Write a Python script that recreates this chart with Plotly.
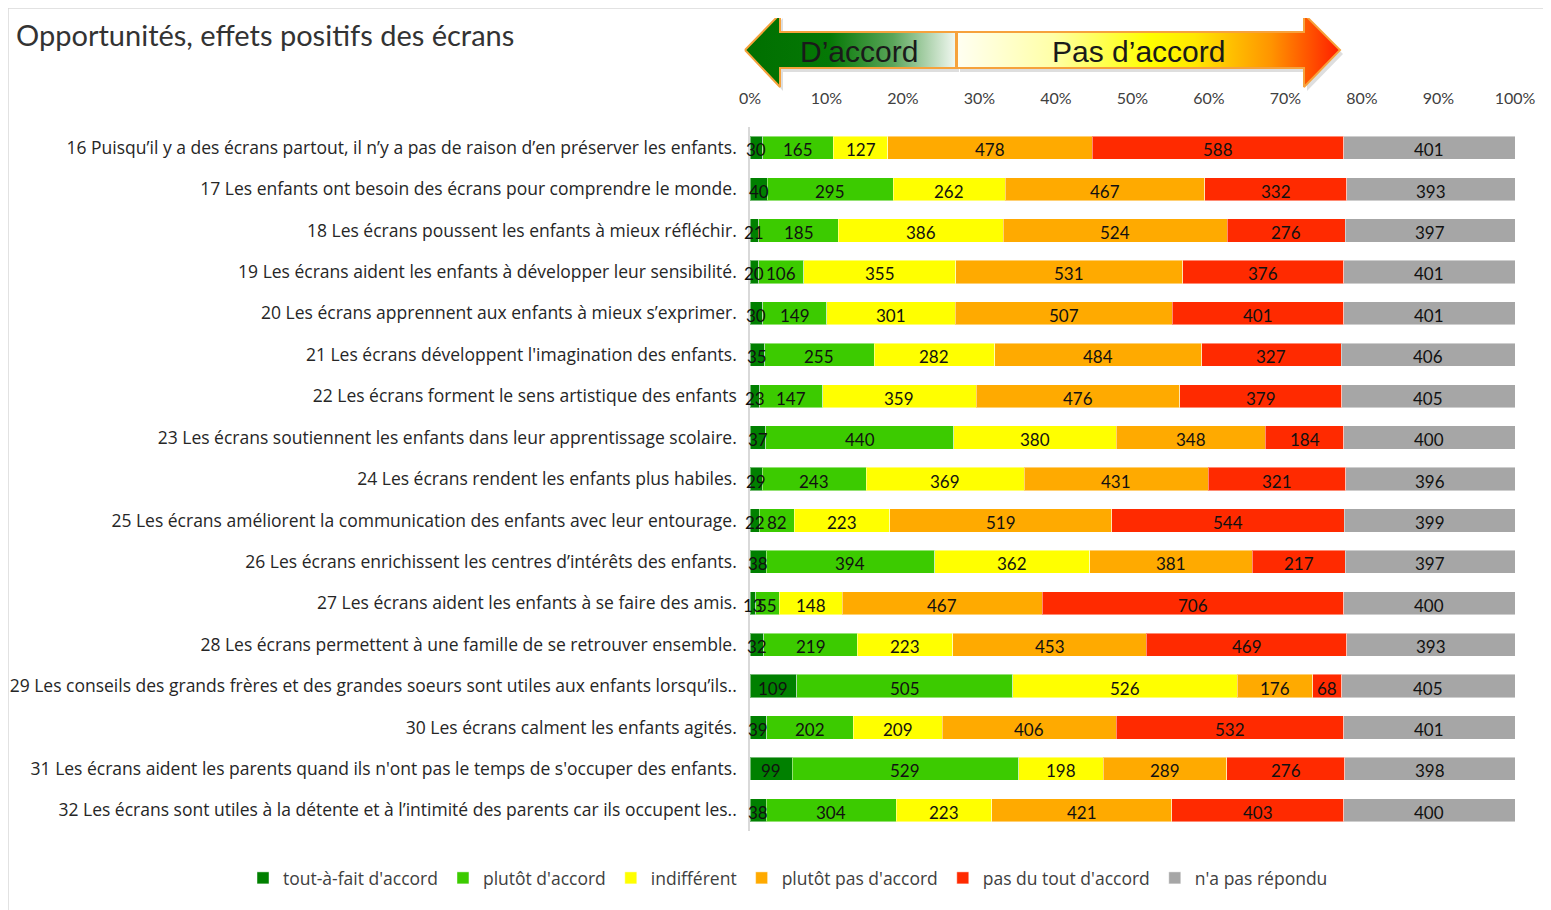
import plotly.graph_objects as go

# ---------------- data ----------------
questions = [
    "16 Puisqu’il y a des écrans partout, il n’y a pas de raison d’en préserver les enfants.",
    "17 Les enfants ont besoin des écrans pour comprendre le monde.",
    "18 Les écrans poussent les enfants à mieux réfléchir.",
    "19 Les écrans aident les enfants à développer leur sensibilité.",
    "20 Les écrans apprennent aux enfants à mieux s’exprimer.",
    "21 Les écrans développent l'imagination des enfants.",
    "22 Les écrans forment le sens artistique des enfants",
    "23 Les écrans soutiennent les enfants dans leur apprentissage scolaire.",
    "24 Les écrans rendent les enfants plus habiles.",
    "25 Les écrans améliorent la communication des enfants avec leur entourage.",
    "26 Les écrans enrichissent les centres d’intérêts des enfants.",
    "27 Les écrans aident les enfants à se faire des amis.",
    "28 Les écrans permettent à une famille de se retrouver ensemble.",
    "29 Les conseils des grands frères et des grandes soeurs sont utiles aux enfants lorsqu’ils..",
    "30 Les écrans calment les enfants agités.",
    "31 Les écrans aident les parents quand ils n'ont pas le temps de s'occuper des enfants.",
    "32 Les écrans sont utiles à la détente et à l’intimité des parents car ils occupent les..",
]

series_names = ["tout-à-fait d'accord", "plutôt d'accord", "indifférent",
                "plutôt pas d'accord", "pas du tout d'accord", "n'a pas répondu"]

tout_a_fait = [30, 40, 21, 20, 30, 35, 23, 37, 29, 22, 38, 13, 32, 109, 39, 99, 38]
plutot = [165, 295, 185, 106, 149, 255, 147, 440, 243, 82, 394, 55, 219, 505, 202, 529, 304]
indifferent = [127, 262, 386, 355, 301, 282, 359, 380, 369, 223, 362, 148, 223, 526, 209, 198, 223]
plutot_pas = [478, 467, 524, 531, 507, 484, 476, 348, 431, 519, 381, 467, 453, 176, 406, 289, 421]
pas_du_tout = [588, 332, 276, 376, 401, 327, 379, 184, 321, 544, 217, 706, 469, 68, 532, 276, 403]
sans_reponse = [401, 393, 397, 401, 401, 406, 405, 400, 396, 399, 397, 400, 393, 405, 401, 398, 400]

tick_values = [0, 0.1, 0.2, 0.3, 0.4, 0.5, 0.6, 0.7, 0.8, 0.9, 1.0]
tick_labels = ["0%", "10%", "20%", "30%", "40%", "50%", "60%", "70%", "80%", "90%", "100%"]

title_text = "Opportunités, effets positifs des écrans"
header_left = "D’accord"
header_right = "Pas d’accord"

# ---------------- styles / geometry helpers ----------------
colors = ["#008000", "#3CCB00", "#FFFF00", "#FFAA00", "#FF2A00", "#A6A6A6"]
W, H = 1551, 910
OFF = 8  # page body offset
ML, MR, MT, MB = 10, 10, 10, 80
PW, PH = W - ML - MR, H - MT - MB
LABEL_FONT = "Open Sans, Noto Sans, sans-serif"
NUM_FONT = "Lato, Noto Sans, sans-serif"


def px_x(s):
    return (s - OFF - ML) / PW


def px_y(s):
    return (H - MB - (s - OFF)) / PH


all_series = [tout_a_fait, plutot, indifferent, plutot_pas, pas_du_tout, sans_reponse]
totals = [sum(v) for v in zip(*all_series)]

fig = go.Figure()
for name, vals, col in zip(series_names, all_series, colors):
    fig.add_trace(go.Bar(
        y=questions,
        x=[v / t for v, t in zip(vals, totals)],
        orientation="h",
        name=name,
        marker=dict(color=col, line=dict(color="rgba(255,255,255,0.45)", width=1)),
        hovertemplate="%{y}<br>" + name + ": %{x:.1%}<extra></extra>",
    ))

# value labels drawn on top of all segments (centre of each stacked segment)
value_annotations = []
for i, q in enumerate(questions):
    cum = 0.0
    for vals in all_series:
        share = vals[i] / totals[i]
        value_annotations.append(dict(
            x=cum + share / 2, y=q, xref="x", yref="y", text=str(vals[i]),
            showarrow=False, xanchor="center", yanchor="middle", yshift=-2,
            font=dict(family=NUM_FONT, size=17, color="#111111"),
        ))
        cum += share

# header arrows (decoration) on an auxiliary axis in screen-pixel units
left_x = [745, 780, 780, 956, 956, 780, 780, 745]
left_y = [50, 14, 32, 32, 68, 68, 87, 50]
right_x = [957, 1304, 1304, 1340, 1304, 1304, 957, 957]
right_y = [32, 32, 14, 50, 87, 68, 68, 32]

# soft shadow
for xs, ys in ((left_x, left_y), (right_x, right_y)):
    fig.add_trace(go.Scatter(
        x=[v + 3 for v in xs], y=[v + 4 for v in ys], xaxis="x2", yaxis="y2", mode="lines",
        fill="toself", fillcolor="rgba(0,0,0,0.13)", line=dict(width=0),
        showlegend=False, hoverinfo="skip",
    ))

fig.add_trace(go.Scatter(
    x=left_x, y=left_y, xaxis="x2", yaxis="y2", mode="lines",
    fill="toself",
    fillgradient=dict(type="horizontal",
                      colorscale=[[0, "#006f00"], [0.4, "#057805"], [0.7, "#5aa55a"], [1, "#f2f8f2"]]),
    line=dict(color="#F6A23C", width=2), showlegend=False, hoverinfo="skip",
))
fig.add_trace(go.Scatter(
    x=right_x, y=right_y, xaxis="x2", yaxis="y2", mode="lines",
    fill="toself",
    fillgradient=dict(type="horizontal",
                      colorscale=[[0, "#fffff2"], [0.25, "#ffffa8"], [0.5, "#ffff00"],
                                  [0.62, "#ffe800"], [0.82, "#ff9400"], [1, "#ff1e00"]]),
    line=dict(color="#F6A23C", width=2), showlegend=False, hoverinfo="skip",
))

n = len(questions)
fig.update_layout(
    width=W, height=H,
    margin=dict(l=ML, r=MR, t=MT, b=MB, autoexpand=False),
    paper_bgcolor="white", plot_bgcolor="rgba(0,0,0,0)",
    barmode="stack", bargap=0.44,
    font=dict(family=LABEL_FONT, color="#262626"),
    xaxis=dict(
        domain=[px_x(750), px_x(1515)], range=[0, 1], side="top",
        tickvals=tick_values, ticktext=tick_labels,
        showgrid=False, zeroline=False, showline=False, ticks="",
        tickfont=dict(family=NUM_FONT, size=16, color="#404040"),
        ticklabelstandoff=19, fixedrange=True, automargin=False,
    ),
    yaxis=dict(
        domain=[px_y(831), px_y(127)], range=[n - 0.5, -0.5],
        showgrid=False, zeroline=False, showline=True, linecolor="#D9D9D9", linewidth=1.5,
        ticks="", ticklabelstandoff=8, automargin=False,
        tickfont=dict(family=LABEL_FONT, size=17.5, color="#262626"),
        fixedrange=True,
    ),
    xaxis2=dict(domain=[0, 1], range=[OFF + ML, OFF + W - MR], anchor="y2", visible=False,
                fixedrange=True),
    yaxis2=dict(domain=[px_y(100), 1], range=[100, OFF + MT], anchor="x2", visible=False,
                fixedrange=True),
    legend=dict(
        orientation="h", x=px_x(788), xanchor="center", y=px_y(878), yanchor="middle",
        font=dict(family=LABEL_FONT, size=17.5, color="#404040"),
        traceorder="normal", itemclick=False, itemdoubleclick=False,
    ),
    shapes=[
        dict(type="rect", xref="paper", yref="paper",
             x0=px_x(8), x1=px_x(1547), y0=px_y(915), y1=px_y(8),
             line=dict(color="#D9D9D9", width=1.5), fillcolor="rgba(0,0,0,0)", layer="below"),
    ],
    annotations=value_annotations + [
        dict(text=title_text, xref="paper", yref="paper", x=px_x(14), y=px_y(34),
             xanchor="left", yanchor="middle",
             showarrow=False, font=dict(family=NUM_FONT, size=29, color="#333333")),
        dict(text=header_left, xref="x2", yref="y2", x=859, y=51, xanchor="center", yanchor="middle",
             showarrow=False, font=dict(family="Liberation Sans, Arial, sans-serif", size=30, color="#1a1a1a")),
        dict(text=header_right, xref="x2", yref="y2", x=1138, y=51, xanchor="center", yanchor="middle",
             showarrow=False, font=dict(family="Liberation Sans, Arial, sans-serif", size=30, color="#1a1a1a")),
    ],
)

fig.write_html("out.html")
